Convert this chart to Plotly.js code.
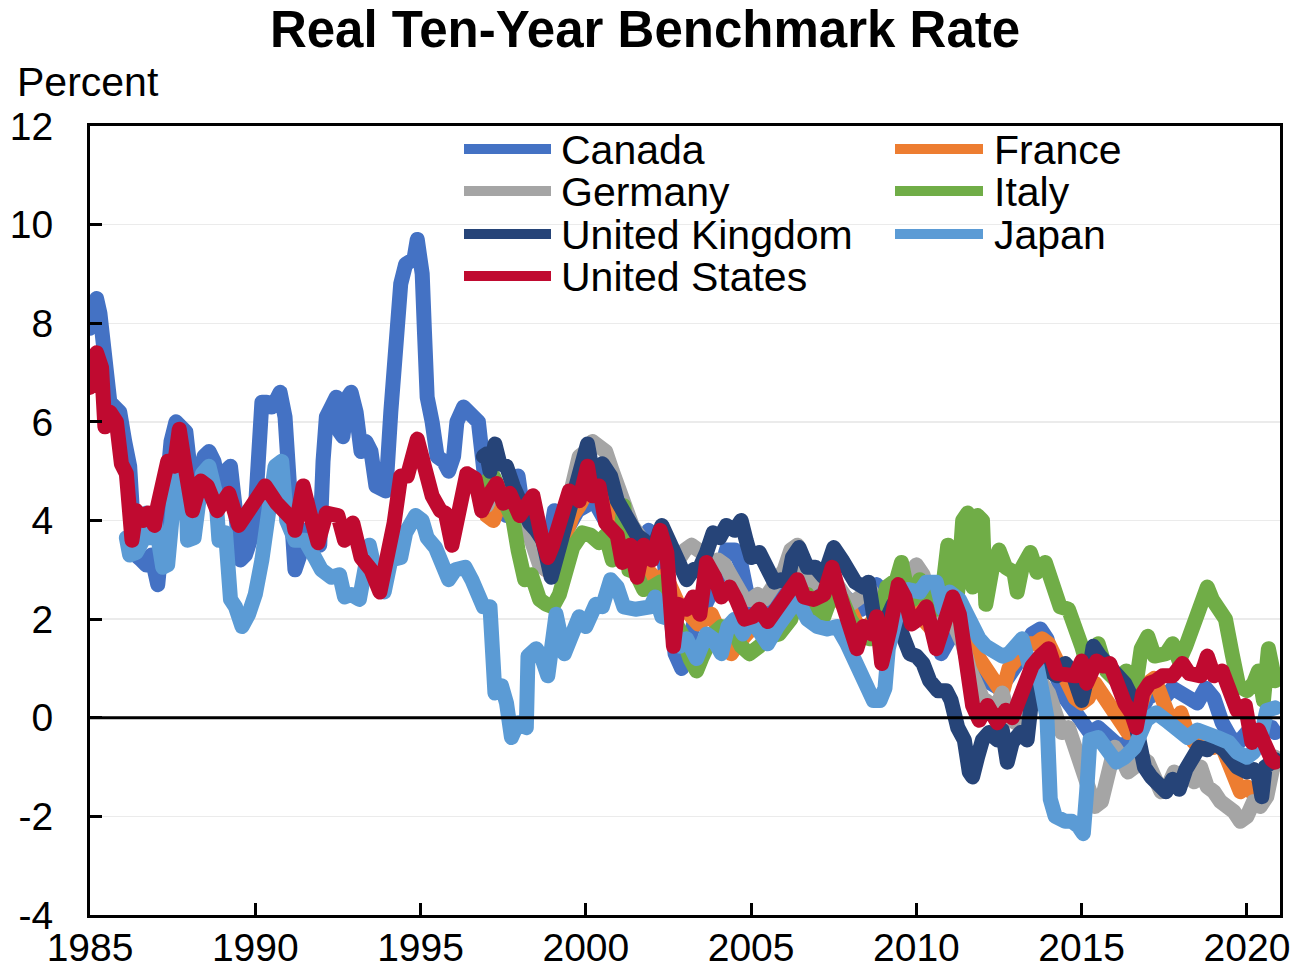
<!DOCTYPE html>
<html>
<head>
<meta charset="utf-8">
<script src="https://cdn.plot.ly/plotly-3.0.1.min.js"></script>
<style>
html,body{margin:0;padding:0;background:#fff;}
#chart{width:1298px;height:971px;}
.scatterlayer path.js-line{stroke-linejoin:round;stroke-linecap:round;}
</style>
</head>
<body>
<div id="chart"></div>
<script>
// ---------------- DATA ----------------
const seriesNames = ["Canada","France","Germany","Italy","United Kingdom","Japan","United States"];
const seriesColors = ["#4472C4","#ED7D31","#A5A5A5","#70AD47","#264478","#5B9BD5","#C00A30"];

const canadaYears = [1985.0,1985.1,1985.2,1985.3,1985.45,1985.6,1985.75,1985.9,1986.05,1986.2,1986.3,1986.38,1986.55,1986.7,1986.85,1986.95,1987.05,1987.15,1987.3,1987.45,1987.6,1987.75,1987.9,1988.05,1988.25,1988.45,1988.6,1988.75,1988.9,1989.1,1989.25,1989.4,1989.55,1989.7,1989.85,1990.0,1990.1,1990.2,1990.35,1990.5,1990.6,1990.75,1990.9,1991.0,1991.1,1991.2,1991.35,1991.5,1991.65,1991.8,1991.95,1992.05,1992.15,1992.3,1992.45,1992.55,1992.65,1992.8,1992.9,1993.05,1993.2,1993.35,1993.5,1993.65,1993.8,1993.95,1994.1,1994.25,1994.4,1994.55,1994.7,1994.8,1994.9,1995.05,1995.12,1995.2,1995.35,1995.5,1995.7,1995.85,1996.0,1996.1,1996.3,1996.45,1996.6,1996.75,1996.9,1997.0,1997.2,1997.4,1997.6,1997.8,1997.95,1998.1,1998.3,1998.5,1998.7,1998.9,1999.05,1999.25,1999.5,1999.75,2000.0,2000.25,2000.5,2000.75,2001.0,2001.25,2001.5,2001.75,2001.9,2002.1,2002.3,2002.5,2002.7,2002.9,2003.1,2003.3,2003.55,2003.8,2004.05,2004.25,2004.5,2004.7,2004.85,2005.1,2005.35,2005.6,2005.85,2006.1,2006.35,2006.6,2006.85,2007.1,2007.35,2007.6,2007.85,2008.1,2008.35,2008.6,2008.8,2009.0,2009.25,2009.5,2009.75,2010.0,2010.25,2010.5,2010.75,2011.0,2011.25,2011.5,2011.75,2012.0,2012.25,2012.5,2012.75,2013.0,2013.25,2013.5,2013.75,2013.95,2014.2,2014.5,2014.75,2015.0,2015.25,2015.5,2015.75,2016.0,2016.25,2016.5,2016.75,2017.0,2017.25,2017.5,2017.75,2018.0,2018.25,2018.5,2018.75,2019.0,2019.25,2019.5,2019.75,2020.0,2020.25,2020.5,2020.75,2020.85];
const canadaValues = [7.9,8.4,8.5,8.2,7.0,6.4,6.3,6.2,5.6,5.1,4.0,3.3,3.2,3.1,3.3,2.8,2.7,3.4,4.6,5.6,6.0,5.9,5.8,4.9,4.7,5.3,5.4,5.2,4.7,5.0,5.1,4.2,3.2,3.3,3.6,4.2,5.6,6.4,6.4,6.3,6.4,6.6,6.1,4.8,3.3,3.0,3.3,3.8,3.7,3.6,3.5,5.2,6.1,6.3,6.5,5.8,5.7,6.5,6.6,6.2,5.4,5.6,5.4,4.7,4.6,4.6,6.2,7.8,8.8,9.2,9.3,9.3,9.7,9.0,7.8,6.5,6.0,5.3,5.2,5.0,5.3,6.0,6.3,6.2,6.0,6.0,5.1,4.5,4.7,4.5,4.1,4.8,4.9,4.2,3.9,3.4,3.3,3.6,4.2,4.0,3.9,4.2,4.3,4.4,4.1,3.8,3.5,3.4,3.3,3.5,3.8,3.6,3.5,2.5,1.3,1.0,1.5,2.0,2.2,2.5,2.9,3.4,3.4,3.1,2.6,2.2,2.0,2.2,2.5,2.6,2.8,2.5,2.4,2.5,2.7,2.6,2.4,2.3,2.2,2.6,2.7,2.2,2.4,2.3,2.4,2.6,2.3,1.7,1.3,1.6,1.8,1.5,0.9,0.8,0.7,0.6,0.8,1.0,1.3,1.7,1.8,1.6,0.9,0.4,0.2,-0.1,-0.3,-0.2,-0.4,-0.5,-0.6,-0.4,0.1,0.4,0.5,0.4,0.6,0.5,0.4,0.3,0.6,0.4,-0.1,-0.4,-0.5,-0.3,-0.6,-0.2,-0.2,-0.3];

const franceYears = [1997.0,1997.2,1997.4,1997.6,1997.8,1998.0,1998.2,1998.4,1998.6,1998.8,1999.0,1999.2,1999.4,1999.6,1999.8,2000.0,2000.2,2000.4,2000.6,2000.8,2001.0,2001.2,2001.4,2001.6,2001.8,2002.0,2002.2,2002.4,2002.6,2002.8,2003.0,2003.2,2003.4,2003.6,2003.8,2004.0,2004.2,2004.4,2004.6,2004.8,2005.0,2005.2,2005.4,2005.6,2005.8,2006.0,2006.2,2006.4,2006.6,2006.8,2007.0,2007.2,2007.4,2007.6,2007.8,2008.0,2008.2,2008.4,2008.6,2008.8,2009.0,2009.2,2009.4,2009.6,2009.8,2010.0,2010.2,2010.4,2010.6,2010.8,2011.0,2011.2,2011.4,2011.6,2011.8,2012.0,2012.2,2012.4,2012.6,2012.8,2013.0,2013.2,2013.4,2013.6,2013.8,2014.0,2014.2,2014.4,2014.6,2014.8,2015.0,2015.2,2015.4,2015.6,2015.8,2016.0,2016.2,2016.4,2016.6,2016.8,2017.0,2017.2,2017.4,2017.6,2017.8,2018.0,2018.2,2018.4,2018.6,2018.8,2019.0,2019.2,2019.4,2019.6,2019.8,2020.0,2020.2,2020.4,2020.6,2020.85];
const franceValues = [4.1,4.0,4.4,4.2,4.0,3.9,3.8,3.7,3.3,3.0,3.0,3.4,3.8,4.1,4.3,4.6,4.8,4.8,4.6,4.2,3.9,3.6,3.3,3.2,3.0,2.9,2.8,2.9,2.6,2.3,2.2,2.0,1.9,2.0,2.1,1.8,1.5,1.3,1.5,1.7,1.8,1.9,2.0,1.9,2.0,2.2,2.4,2.5,2.3,2.2,2.3,2.4,2.5,2.4,2.3,2.2,1.9,1.8,1.9,2.1,2.3,2.5,2.6,2.5,2.4,2.3,2.0,1.8,1.7,2.0,2.2,2.3,2.1,1.6,1.3,1.1,0.9,0.6,0.5,1.0,1.2,1.4,1.5,1.5,1.6,1.5,1.2,0.9,0.6,0.4,0.3,0.4,0.7,0.5,0.2,0.0,-0.2,-0.3,-0.1,0.3,0.7,0.8,0.4,0.1,-0.1,0.1,-0.3,-0.5,-0.4,-0.5,-0.6,-0.5,-0.9,-1.3,-1.5,-1.4,-1.6,-1.7,-1.3,-0.9];

const germanyYears = [1997.0,1997.2,1997.4,1997.6,1997.8,1998.0,1998.2,1998.4,1998.6,1998.8,1999.0,1999.2,1999.4,1999.6,1999.8,2000.0,2000.2,2000.4,2000.6,2000.8,2001.0,2001.2,2001.4,2001.6,2001.8,2002.0,2002.2,2002.4,2002.6,2002.8,2003.0,2003.2,2003.4,2003.6,2003.8,2004.0,2004.2,2004.4,2004.6,2004.8,2005.0,2005.2,2005.4,2005.6,2005.8,2006.0,2006.2,2006.4,2006.6,2006.8,2007.0,2007.2,2007.4,2007.6,2007.8,2008.0,2008.2,2008.4,2008.6,2008.8,2009.0,2009.2,2009.4,2009.6,2009.8,2010.0,2010.2,2010.4,2010.6,2010.8,2011.0,2011.2,2011.4,2011.6,2011.8,2012.0,2012.2,2012.4,2012.6,2012.8,2013.0,2013.2,2013.4,2013.6,2013.8,2014.0,2014.2,2014.4,2014.6,2014.8,2015.0,2015.2,2015.4,2015.6,2015.8,2016.0,2016.2,2016.4,2016.6,2016.8,2017.0,2017.2,2017.4,2017.6,2017.8,2018.0,2018.2,2018.4,2018.6,2018.8,2019.0,2019.2,2019.4,2019.6,2019.8,2020.0,2020.2,2020.4,2020.6,2020.85];
const germanyValues = [4.3,4.6,4.5,4.3,4.2,4.1,3.9,3.5,3.1,3.0,3.2,3.6,4.2,4.9,5.3,5.4,5.6,5.5,5.4,5.0,4.6,4.3,3.9,3.7,3.5,3.3,3.5,3.4,3.3,3.2,3.4,3.5,3.4,3.3,3.0,3.2,3.1,2.9,2.6,2.4,2.4,2.5,2.4,2.6,2.8,3.0,3.4,3.5,3.0,2.7,2.8,2.9,2.8,2.7,2.5,2.3,2.4,2.5,2.6,2.4,2.2,2.4,2.6,2.8,3.0,3.1,2.9,2.3,2.0,2.2,2.1,1.8,1.5,1.0,0.6,0.4,0.3,0.2,0.5,0.0,-0.1,0.2,0.4,0.6,0.7,0.5,0.0,-0.3,-0.2,-0.6,-1.0,-1.4,-1.8,-1.7,-1.2,-0.6,-0.8,-1.1,-1.0,-0.8,-0.9,-1.2,-1.5,-1.4,-1.1,-1.2,-1.1,-1.3,-1.0,-1.4,-1.5,-1.7,-1.8,-1.9,-2.1,-2.0,-1.7,-1.8,-1.6,-0.8];

const italyYears = [1997.0,1997.2,1997.4,1997.6,1997.8,1997.95,1998.15,1998.35,1998.6,1998.8,1999.0,1999.2,1999.4,1999.6,1999.9,2000.15,2000.4,2000.6,2000.8,2001.05,2001.15,2001.3,2001.5,2001.75,2002.0,2002.25,2002.5,2002.75,2002.9,2003.15,2003.35,2003.5,2003.85,2004.1,2004.45,2004.7,2004.95,2005.25,2005.55,2005.85,2006.2,2006.4,2006.7,2006.95,2007.2,2007.5,2007.75,2008.0,2008.35,2008.6,2008.9,2009.1,2009.4,2009.55,2009.7,2009.9,2010.1,2010.35,2010.6,2010.8,2010.95,2011.1,2011.25,2011.4,2011.55,2011.7,2011.85,2012.0,2012.1,2012.3,2012.5,2012.7,2012.95,2013.05,2013.2,2013.45,2013.65,2013.9,2014.1,2014.35,2014.6,2014.8,2015.0,2015.15,2015.3,2015.5,2015.75,2016.05,2016.35,2016.65,2016.8,2017.0,2017.2,2017.55,2017.75,2017.95,2018.15,2018.35,2018.6,2018.8,2018.95,2019.1,2019.35,2019.55,2019.75,2020.0,2020.2,2020.35,2020.5,2020.65,2020.85];
const italyValues = [4.8,4.9,4.6,4.3,4.0,3.4,2.8,2.9,2.4,2.3,2.25,2.5,3.05,3.45,3.75,3.7,3.55,3.7,3.2,3.65,4.3,3.0,2.95,2.6,2.65,2.75,2.2,1.9,1.7,1.2,0.95,1.2,1.7,1.85,1.8,1.45,1.3,1.45,1.65,1.7,2.0,2.4,2.5,2.2,2.05,2.6,2.4,2.0,1.65,1.6,2.05,2.65,2.8,3.15,2.65,2.4,2.8,2.4,2.2,2.65,3.5,2.95,2.55,4.0,4.15,2.65,4.1,4.0,2.3,3.05,3.4,3.05,2.95,2.55,3.05,3.35,2.95,3.15,2.65,2.25,2.2,1.9,1.45,1.1,1.3,1.5,0.95,0.75,0.95,0.7,1.4,1.65,1.25,1.3,1.5,1.15,1.45,1.9,2.2,2.65,2.4,2.2,2.0,1.3,0.65,0.55,0.7,0.95,0.35,1.4,0.75];

const ukYears = [1996.9,1997.0,1997.1,1997.25,1997.4,1997.6,1997.8,1998.1,1998.3,1998.5,1998.7,1998.95,1999.1,1999.3,1999.5,1999.75,1999.9,2000.05,2000.2,2000.35,2000.5,2000.75,2000.95,2001.15,2001.35,2001.55,2001.75,2002.0,2002.3,2002.45,2002.6,2002.85,2003.05,2003.25,2003.45,2003.65,2003.85,2004.05,2004.25,2004.5,2004.7,2004.85,2005.0,2005.25,2005.5,2005.7,2005.9,2006.1,2006.25,2006.45,2006.7,2006.95,2007.2,2007.5,2007.75,2007.95,2008.15,2008.4,2008.55,2008.7,2008.9,2009.1,2009.3,2009.45,2009.6,2009.8,2010.0,2010.2,2010.4,2010.65,2010.9,2011.05,2011.25,2011.45,2011.6,2011.7,2011.85,2012.0,2012.2,2012.45,2012.6,2012.75,2012.9,2013.15,2013.35,2013.45,2013.6,2013.8,2014.0,2014.25,2014.5,2014.7,2014.85,2015.0,2015.25,2015.35,2015.55,2015.85,2016.1,2016.3,2016.45,2016.55,2016.75,2016.9,2017.1,2017.3,2017.55,2017.75,2017.95,2018.15,2018.3,2018.55,2018.8,2019.0,2019.3,2019.5,2019.7,2020.0,2020.2,2020.35,2020.45,2020.55,2020.85];
const ukValues = [5.3,5.35,5.0,5.55,5.15,5.1,4.7,4.2,3.95,3.8,3.6,2.85,3.2,3.75,4.3,4.8,5.3,5.55,5.0,4.75,5.15,4.9,4.4,4.15,3.95,3.7,3.6,3.35,3.9,3.7,3.35,3.05,2.8,3.0,3.05,3.35,3.75,3.65,3.9,3.8,4.0,3.6,3.25,3.35,3.0,2.75,2.8,2.75,3.25,3.45,3.05,3.05,2.85,3.45,3.2,3.0,2.75,2.65,2.75,2.1,1.7,2.0,2.3,1.9,1.6,1.3,1.25,1.1,0.75,0.55,0.55,0.35,-0.2,-0.45,-1.1,-1.2,-0.8,-0.45,-0.3,-0.45,-0.25,-0.9,-0.5,-0.3,-0.45,0.5,1.05,1.2,0.95,0.85,1.1,0.95,0.5,0.35,1.05,1.45,1.25,1.05,0.9,0.7,0.5,0.1,-0.3,-1.0,-1.2,-1.3,-1.5,-1.25,-1.45,-1.05,-0.85,-0.6,-0.65,-0.5,-0.65,-0.9,-1.0,-1.1,-1.05,-1.2,-1.6,-1.0,-0.85];

const japanYears = [1986.1,1986.2,1986.4,1986.6,1986.7,1986.8,1986.95,1987.2,1987.35,1987.55,1987.8,1987.9,1987.95,1988.15,1988.4,1988.6,1988.8,1988.9,1989.1,1989.25,1989.4,1989.6,1989.8,1990.0,1990.2,1990.4,1990.6,1990.8,1990.95,1991.2,1991.5,1991.8,1992.0,1992.3,1992.55,1992.7,1992.9,1993.15,1993.3,1993.45,1993.65,1993.9,1994.1,1994.4,1994.55,1994.85,1995.05,1995.2,1995.45,1995.65,1995.85,1996.05,1996.35,1996.55,1996.8,1996.9,1997.1,1997.25,1997.45,1997.6,1997.75,1997.95,1998.2,1998.25,1998.5,1998.65,1998.85,1998.95,1999.1,1999.35,1999.55,1999.8,2000.0,2000.3,2000.5,2000.75,2000.95,2001.15,2001.5,2001.95,2002.1,2002.3,2002.55,2002.85,2003.05,2003.35,2003.65,2003.85,2004.1,2004.3,2004.5,2004.75,2005.0,2005.25,2005.5,2005.8,2006.1,2006.4,2006.7,2007.0,2007.3,2007.6,2007.9,2008.2,2008.45,2008.7,2008.9,2009.05,2009.15,2009.35,2009.55,2009.75,2010.1,2010.3,2010.6,2010.8,2011.0,2011.3,2011.5,2011.7,2011.9,2012.1,2012.3,2012.6,2012.8,2013.0,2013.2,2013.4,2013.65,2013.8,2013.95,2014.05,2014.2,2014.5,2014.7,2014.9,2015.05,2015.15,2015.25,2015.5,2015.85,2016.05,2016.3,2016.6,2016.95,2017.25,2017.55,2017.85,2018.2,2018.5,2018.8,2019.1,2019.45,2019.7,2020.0,2020.2,2020.4,2020.6,2020.85];
const japanValues = [3.65,3.3,3.35,3.6,4.15,3.65,4.1,3.05,3.1,4.55,5.2,4.8,3.6,3.65,4.95,5.1,4.55,3.6,3.75,2.4,2.25,1.85,2.1,2.5,3.2,4.5,5.1,5.2,4.0,3.6,3.6,3.25,3.0,2.85,2.9,2.45,2.5,2.4,3.1,3.5,2.9,2.55,3.2,3.25,3.75,4.1,4.0,3.65,3.45,3.05,2.8,3.0,3.05,2.8,2.45,2.25,2.25,0.5,0.65,0.3,-0.4,-0.1,-0.2,1.25,1.4,1.25,0.85,1.6,2.1,1.3,1.7,2.05,1.85,2.3,2.25,2.8,2.65,2.25,2.2,2.25,2.45,2.05,2.0,1.45,1.6,1.2,1.7,1.6,1.3,1.85,2.0,1.7,2.0,1.7,1.5,1.85,2.2,2.4,2.0,1.85,1.8,1.85,1.5,1.05,0.85,0.35,0.35,0.6,1.4,2.05,2.45,2.6,2.55,2.75,2.75,2.2,2.55,2.4,2.1,1.8,1.6,1.45,1.4,1.25,1.3,1.5,1.6,1.1,1.05,0.55,0.0,-1.65,-2.0,-2.1,-2.1,-2.2,-2.35,-1.5,-0.45,-0.4,-0.7,-0.9,-0.8,-0.6,-0.05,0.1,-0.05,-0.2,-0.4,-0.25,-0.3,-0.4,-0.5,-0.7,-0.8,-0.7,-0.45,0.15,0.2];

const usYears = [1985.0,1985.05,1985.2,1985.35,1985.45,1985.6,1985.8,1985.95,1986.1,1986.27,1986.4,1986.6,1986.75,1986.95,1987.05,1987.35,1987.55,1987.7,1987.85,1988.1,1988.35,1988.55,1988.85,1989.2,1989.5,1989.75,1990.05,1990.3,1990.65,1990.95,1991.15,1991.2,1991.3,1991.45,1991.65,1991.9,1992.15,1992.5,1992.7,1992.95,1993.2,1993.5,1993.77,1994.0,1994.2,1994.4,1994.6,1994.9,1995.1,1995.35,1995.6,1995.75,1995.95,1996.1,1996.4,1996.65,1996.85,1997.1,1997.3,1997.5,1997.7,1998.0,1998.4,1998.65,1998.85,1999.0,1999.2,1999.5,1999.8,2000.05,2000.2,2000.4,2000.6,2000.95,2001.1,2001.35,2001.55,2001.75,2002.0,2002.25,2002.45,2002.55,2002.65,2002.8,2003.05,2003.25,2003.45,2003.65,2003.9,2004.1,2004.35,2004.55,2004.8,2005.05,2005.25,2005.5,2005.8,2006.1,2006.4,2006.6,2006.9,2007.2,2007.45,2007.7,2007.95,2008.2,2008.4,2008.65,2008.8,2008.95,2009.2,2009.45,2009.65,2009.85,2010.05,2010.3,2010.6,2010.85,2011.1,2011.3,2011.5,2011.7,2011.9,2012.15,2012.45,2012.7,2012.9,2013.1,2013.35,2013.5,2013.75,2014.0,2014.25,2014.5,2014.8,2015.0,2015.15,2015.45,2015.65,2015.85,2016.05,2016.3,2016.5,2016.65,2016.85,2017.05,2017.25,2017.45,2017.75,2018.05,2018.25,2018.6,2018.8,2019.0,2019.25,2019.5,2019.7,2019.95,2020.15,2020.35,2020.55,2020.75,2020.85];
const usValues = [6.7,6.8,7.4,7.1,5.9,6.2,6.0,5.15,4.95,3.6,4.2,4.0,4.15,3.9,4.3,5.2,5.1,5.85,5.2,4.2,4.8,4.7,4.2,4.55,3.9,4.15,4.5,4.7,4.35,4.15,4.0,3.8,4.35,4.7,4.15,3.55,4.15,4.1,3.6,3.95,3.25,3.0,2.55,3.25,3.95,4.9,4.9,5.65,5.15,4.5,4.2,4.15,3.5,3.95,4.95,4.85,4.2,4.55,4.75,4.35,4.55,4.1,4.5,3.7,3.25,3.5,3.95,4.6,4.4,5.1,4.5,4.7,3.95,3.7,3.15,3.5,2.85,3.5,3.2,3.8,3.35,2.4,1.45,2.3,2.2,2.45,2.1,3.15,2.85,2.45,2.65,2.4,2.0,2.05,2.2,1.95,2.25,2.6,2.8,2.45,2.4,2.5,3.05,2.45,2.0,1.4,1.85,1.7,2.05,1.1,1.8,2.7,2.45,1.9,2.0,2.25,1.4,2.05,2.45,2.1,1.25,0.25,-0.05,0.25,-0.1,0.15,0.0,0.35,0.6,1.05,1.25,1.4,0.9,0.9,0.85,1.15,0.7,1.15,1.05,1.1,0.65,0.3,0.1,-0.2,0.5,0.7,0.75,0.85,0.85,1.1,0.9,0.85,1.25,0.85,0.95,0.35,0.15,0.25,-0.5,-0.25,-0.6,-0.85,-0.9];

const xTickVals = [1985,1990,1995,2000,2005,2010,2015,2020];
const xTickText = ["1985","1990","1995","2000","2005","2010","2015","2020"];
const yTickVals = [-4,-2,0,2,4,6,8,10,12];
const yTickText = ["-4","-2","0","2","4","6","8","10","12"];

// ---------------- CHART ----------------
const xs = [canadaYears, franceYears, germanyYears, italyYears, ukYears, japanYears, usYears];
const ys = [canadaValues, franceValues, germanyValues, italyValues, ukValues, japanValues, usValues];

const FONT = "Arial, 'Liberation Sans', sans-serif";
const LINE_W = 15;

const traces = seriesNames.map((name, i) => ({
  type: "scatter",
  mode: "lines",
  name: name,
  x: xs[i],
  y: ys[i],
  line: {color: seriesColors[i], width: LINE_W},
  showlegend: false,
  hoverinfo: "skip"
}));

// Plot area: x 90..1280, y 126..915
const W = 1298, H = 971;
const L = 90, R = 1280, T = 126, B = 915;
const px2x = p => (p - L) / (R - L);
const px2y = p => (B - p) / (B - T);

// Manual legend (two columns, row-major order like the reference)
const legendCols = [{lx0: 464, lx1: 551, tx: 559}, {lx0: 895, lx1: 983, tx: 992}];
const legendRows = [149, 191, 234, 276];
const shapes = [];
const annotations = [];
seriesNames.forEach((name, i) => {
  const c = legendCols[i % 2];
  const r = legendRows[Math.floor(i / 2)];
  shapes.push({
    type: "line", xref: "paper", yref: "paper",
    x0: px2x(c.lx0), x1: px2x(c.lx1), y0: px2y(r), y1: px2y(r),
    line: {color: seriesColors[i], width: 10}, layer: "above"
  });
  annotations.push({
    xref: "paper", yref: "paper", x: px2x(c.tx), y: px2y(r + 1),
    xanchor: "left", yanchor: "middle", showarrow: false,
    text: name, font: {family: FONT, size: 41, color: "#000"}
  });
});

// zero line, drawn above the series as in the reference
shapes.push({
  type: "line", xref: "paper", yref: "y", x0: 0, x1: 1, y0: 0, y1: 0,
  line: {color: "#000", width: 3}, layer: "above"
});

annotations.push({
  xref: "paper", yref: "paper", x: px2x(15), y: px2y(82),
  xanchor: "left", yanchor: "middle", showarrow: false,
  text: "Percent", font: {family: FONT, size: 41, color: "#000"}
});

const layout = {
  width: W, height: H,
  margin: {l: L, r: W - R, t: T, b: H - B, pad: 0},
  paper_bgcolor: "#fff", plot_bgcolor: "#fff",
  font: {family: FONT, color: "#000"},
  title: {
    text: "<b>Real Ten-Year Benchmark Rate</b>",
    font: {family: FONT, size: 51, color: "#000"},
    x: 645 / W, xanchor: "center",
    y: 1 - 29 / H, yanchor: "middle", yref: "container"
  },
  xaxis: {
    range: [1985, 2021],
    tickmode: "array", tickvals: xTickVals, ticktext: xTickText,
    ticks: "inside", ticklen: 12, tickwidth: 3, tickcolor: "#000",
    showline: true, linecolor: "#000", linewidth: 3, mirror: true,
    showgrid: false, zeroline: false,
    tickfont: {family: FONT, size: 39, color: "#000"},
    ticklabelstandoff: -4
  },
  yaxis: {
    range: [-4, 12],
    tickmode: "array", tickvals: yTickVals, ticktext: yTickText,
    ticks: "inside", ticklen: 12, tickwidth: 3, tickcolor: "#000",
    showline: true, linecolor: "#000", linewidth: 3, mirror: true,
    showgrid: true, gridcolor: "#EBEBEB", gridwidth: 1.5,
    zeroline: false,
    tickfont: {family: FONT, size: 39, color: "#000"},
    ticklabelstandoff: 26
  },
  shapes: shapes,
  annotations: annotations,
  showlegend: false
};

Plotly.newPlot("chart", traces, layout, {displayModeBar: false, staticPlot: true});
</script>
</body>
</html>
